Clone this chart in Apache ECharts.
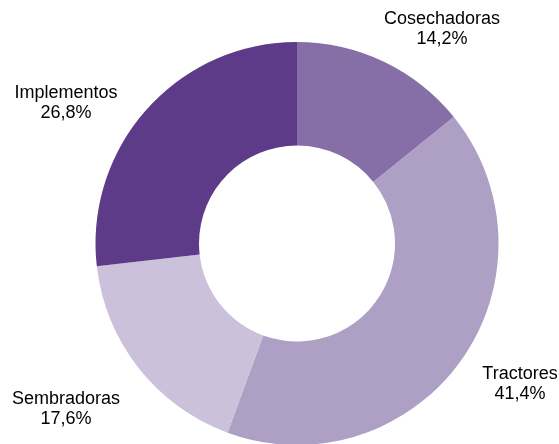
<!DOCTYPE html>
<html>
<head>
<meta charset="utf-8">
<script src="https://cdn.jsdelivr.net/npm/echarts@6/dist/echarts.min.js"></script>
<style>
html,body{margin:0;padding:0;background:#fff;}
#chart{width:559px;height:444px;}
</style>
</head>
<body>
<div id="chart"></div>
<script>
var categories = ['Cosechadoras', 'Tractores', 'Sembradoras', 'Implementos'];
var values = [14.2, 41.4, 17.6, 26.8];
var colors = ['#866ea7', '#ae9fc5', '#cbc1db', '#5d3b89'];
// label anchor centres (layout only)
var labelPos = [[442, 29], [520, 384], [66, 409], [66, 103]];

var chart = echarts.init(document.getElementById('chart'), null, {renderer: 'canvas'});
var data = categories.map(function (c, i) {
  return {name: c, value: values[i], itemStyle: {color: colors[i]}};
});
chart.setOption({
  animation: false,
  backgroundColor: '#ffffff',
  series: [{
    type: 'pie',
    center: [297, 243.5],
    radius: [98, 201.5],
    startAngle: 90,
    clockwise: true,
    silent: true,
    data: data,
    itemStyle: {borderWidth: 0},
    label: {
      show: true,
      position: 'outside',
      color: '#000000',
      fontFamily: 'Liberation Sans, Arial, sans-serif',
      fontSize: 18,
      lineHeight: 20,
      align: 'center',
      overflow: 'none',
      bleedMargin: 0,
      edgeDistance: 0,
      formatter: function (p) {
        return p.name + '\n' + p.value.toFixed(1).replace('.', ',') + '%';
      }
    },
    labelLine: {show: false},
    labelLayout: function (p) {
      var pos = labelPos[p.dataIndex];
      return {x: pos[0], y: pos[1], align: 'center', verticalAlign: 'middle', hideOverlap: false};
    }
  }]
});
</script>
</body>
</html>
